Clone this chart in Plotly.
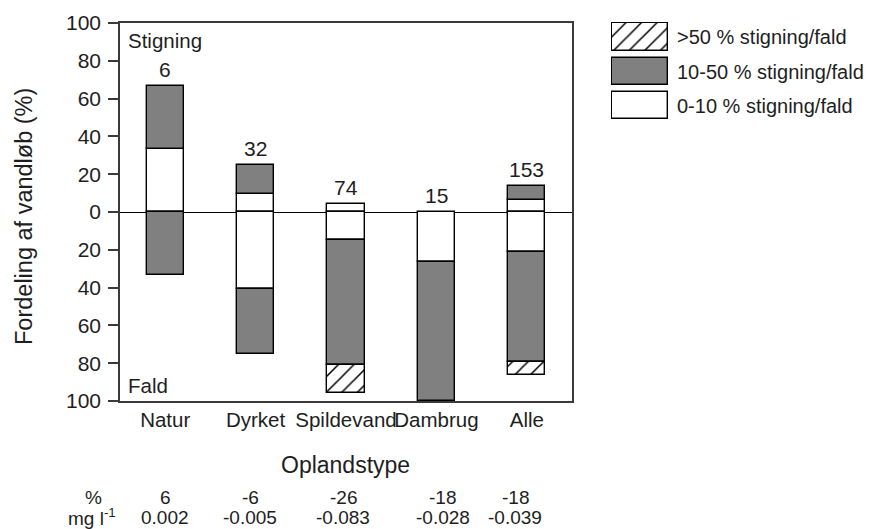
import plotly.graph_objects as go

# Catchment types and number of streams in each
categories = ["Natur", "Dyrket", "Spildevand", "Dambrug", "Alle"]
n_streams = [6, 32, 74, 15, 153]

# Share of streams (%) with rising concentration ("Stigning")
up_0_10 = [33.3, 9.4, 4.1, 0, 6.5]
up_10_50 = [33.3, 15.6, 0, 0, 7.2]

# Share of streams (%) with falling concentration ("Fald")
down_0_10 = [0, 40.6, 14.9, 26.7, 21.2]
down_10_50 = [33.3, 34.4, 66.2, 73.3, 58.0]
down_gt50 = [0, 0, 14.9, 0, 7.2]

# Mean change per catchment type
change_pct = ["6", "-6", "-26", "-18", "-18"]
change_mg = ["0.002", "-0.005", "-0.083", "-0.028", "-0.039"]

y_ticks = [-100, -80, -60, -40, -20, 0, 20, 40, 60, 80, 100]
y_ticktext = [str(abs(v)) for v in y_ticks]

FONT = "Liberation Sans, Arial, sans-serif"
TXT = "#1e1e1e"
GRAY = "#808080"
W, H = 874, 529


def nz(values, sign=1):
    return [sign * v if v else None for v in values]


def px_x(p):
    return p / W


def px_y(p):
    return 1 - p / H


outline = dict(color="black", width=1.4)
hatch = dict(shape="/", fgcolor="black", bgcolor="white", size=11,
             solidity=0.14, fillmode="replace")

fig = go.Figure()
bar_kw = dict(x=categories, width=0.41, showlegend=False, hoverinfo="skip")
fig.add_bar(y=nz(up_0_10), marker=dict(color="white", line=outline), **bar_kw)
fig.add_bar(y=nz(down_0_10, -1), marker=dict(color="white", line=outline), **bar_kw)
fig.add_bar(y=nz(up_10_50), marker=dict(color=GRAY, line=outline), **bar_kw)
fig.add_bar(y=nz(down_10_50, -1), marker=dict(color=GRAY, line=outline), **bar_kw)
fig.add_bar(y=nz(down_gt50, -1),
            marker=dict(color="white", line=outline, pattern=hatch), **bar_kw)

# Legend swatches on their own small axis (pixel-like units, top to bottom)
legend_items = [">50 % stigning/fald", "10-50 % stigning/fald", "0-10 % stigning/fald"]
legend_base = [23, 58, 92]
legend_height = [28, 27, 27]
legend_fill = [dict(color="white", line=outline, pattern=hatch),
               dict(color=GRAY, line=outline),
               dict(color="white", line=outline)]
for b, h, m in zip(legend_base, legend_height, legend_fill):
    fig.add_bar(x=[0], y=[h], base=[b], width=1, marker=m,
                xaxis="x2", yaxis="y2", showlegend=False, hoverinfo="skip")

annotations = []
# Stream counts above each column
for cat, n, u1, u2 in zip(categories, n_streams, up_0_10, up_10_50):
    annotations.append(dict(x=cat, y=u1 + u2, xref="x", yref="y", text=str(n),
                            showarrow=False, yanchor="bottom", yshift=3,
                            font=dict(size=21)))

annotations += [
    dict(x=px_x(126), y=px_y(41), xref="paper", yref="paper", text="Stigning",
         showarrow=False, xanchor="left", yanchor="middle", font=dict(size=20.5)),
    dict(x=px_x(126), y=px_y(385), xref="paper", yref="paper", text="Fald",
         showarrow=False, xanchor="left", yanchor="middle", font=dict(size=20.5)),
    dict(x=px_x(24), y=px_y(217), xref="paper", yref="paper",
         text="Fordeling af vandløb (%)", textangle=-90, showarrow=False,
         xanchor="center", yanchor="middle", font=dict(size=23.5)),
    dict(x=px_x(345), y=px_y(465), xref="paper", yref="paper", text="Oplandstype",
         showarrow=False, xanchor="center", yanchor="middle", font=dict(size=23)),
    dict(x=px_x(93), y=px_y(497), xref="paper", yref="paper", text="%",
         showarrow=False, xanchor="center", yanchor="middle", font=dict(size=19)),
    dict(x=px_x(92), y=px_y(517), xref="paper", yref="paper", text="mg l<sup>-1</sup>",
         showarrow=False, xanchor="center", yanchor="middle", font=dict(size=19)),
]

# Change table columns, slightly offset from the bar centres
col_pos = [0.0, 0.94, 1.97, 3.07, 3.87]
for xp, pct, mg in zip(col_pos, change_pct, change_mg):
    annotations.append(dict(x=xp, y=px_y(497), xref="x", yref="paper", text=pct,
                            showarrow=False, yanchor="middle", font=dict(size=19)))
    annotations.append(dict(x=xp, y=px_y(517), xref="x", yref="paper", text=mg,
                            showarrow=False, yanchor="middle", font=dict(size=19)))

for label, b, h in zip(legend_items, legend_base, legend_height):
    annotations.append(dict(x=px_x(675), y=px_y(b + h / 2), xref="paper", yref="paper",
                            text=label, showarrow=False, xanchor="left",
                            yanchor="middle", font=dict(size=20)))

fig.update_layout(
    width=W, height=H, template="none",
    margin=dict(l=0, r=0, t=0, b=0),
    paper_bgcolor="white", plot_bgcolor="white",
    barmode="relative", bargap=0,
    font=dict(family=FONT, color=TXT, size=20),
    annotations=annotations,
    xaxis=dict(domain=[px_x(120), px_x(572)], range=[-0.5, 4.5],
               showline=True, mirror=True, linecolor="#3a3a3a", linewidth=1.5,
               ticks="", showgrid=False, zeroline=False, automargin=False,
               tickangle=0, tickfont=dict(size=20.5, color=TXT)),
    yaxis=dict(domain=[1 - 401 / H, 1 - 23 / H], range=[-100, 100],
               tickvals=y_ticks, ticktext=y_ticktext,
               showline=True, mirror=True, linecolor="#3a3a3a", linewidth=1.5,
               ticks="outside", ticklen=10, tickwidth=1.5, tickcolor="#3a3a3a",
               ticklabelstandoff=3,
               showgrid=False, zeroline=True, zerolinecolor="black", zerolinewidth=1.2,
               automargin=False, tickfont=dict(size=21, color=TXT)),
    xaxis2=dict(domain=[px_x(611), px_x(669)], range=[-0.518, 0.518],
                visible=False, anchor="y2", fixedrange=True),
    yaxis2=dict(domain=[px_y(121), px_y(22)], range=[121, 22],
                visible=False, anchor="x2", fixedrange=True),
)

fig.write_html("out.html")
